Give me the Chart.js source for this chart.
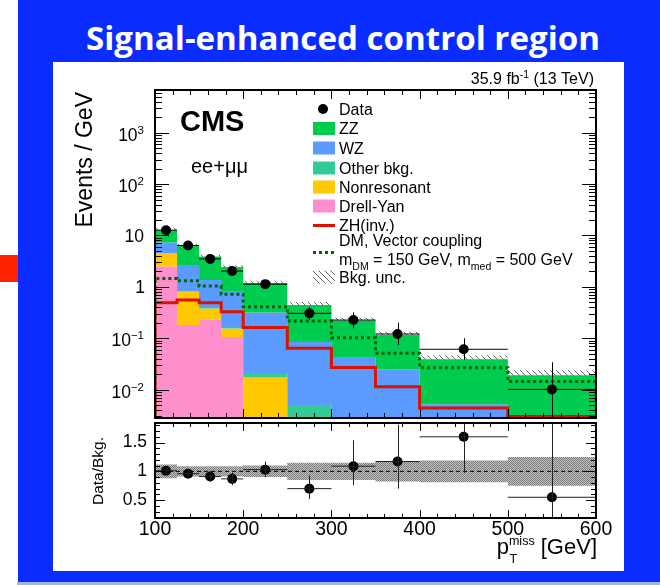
<!DOCTYPE html>
<html>
<head>
<meta charset="utf-8">
<script src="https://cdn.jsdelivr.net/npm/chart.js@4.4.1/dist/chart.umd.min.js"></script>
<style>
  html, body { margin: 0; padding: 0; background: #fff; }
  #page { position: relative; width: 660px; height: 585px; overflow: hidden; background: #fff; }
  #slide { position: absolute; left: 18px; top: 0; width: 642px; height: 582px; background: #0a2cff; }
  #strip { position: absolute; left: 17px; top: 582px; width: 643px; height: 3px; background: #9fbcd6; }
  #marker { position: absolute; left: 0; top: 255px; width: 18px; height: 27px; background: #ff2200; }
  #panel { position: absolute; left: 53px; top: 62px; width: 571px; height: 509px; background: #fff; }
  #title { position: absolute; left: 86px; top: 18px; color: #fff; transform-origin: 0 0;
           font-family: "Open Sans", Lato, sans-serif; font-weight: bold; font-size: 32px; line-height: 40px; white-space: nowrap; }
  canvas { position: absolute; left: 0; top: 0; }
</style>
</head>
<body>
<div id="page">
  <div id="slide"></div>
  <div id="strip"></div>
  <div id="marker"></div>
  <div id="panel"></div>
  <div id="title">Signal-enhanced control region</div>
  <canvas id="main" width="660" height="585"></canvas>
  <canvas id="ratio" width="660" height="585"></canvas>
</div>
<script>
// bins in pTmiss [GeV]
const EDGES = [100, 125, 150, 175, 200, 250, 300, 350, 400, 500, 600];
const CENTERS = [112.5, 137.5, 162.5, 187.5, 225, 275, 325, 375, 450, 550];

// background components, events / GeV (stack order bottom -> top)
const DRELL_YAN   = [2.48, 0.18, 0.231, 0.106, 0, 0, 0, 0, 0, 0];
const NONRESONANT = [2.02, 0.63, 0.147, 0.048, 0.0172, 0, 0, 0, 0, 0];
const OTHER_BKG   = [0.05, 0.02, 0.026, 0.011, 0.0038, 0.005, 0.002, 0.0015, 0.0006, 0.0003];
const WZ          = [2.73, 1.83, 0.956, 0.665, 0.295, 0.079, 0.041, 0.0235, 0.0046, 0.0027];
const ZZ          = [5.42, 3.71, 2.53, 1.60, 0.874, 0.359, 0.178, 0.090, 0.034, 0.016];
const BKG_UNC     = [0.12, 0.09, 0.09, 0.09, 0.10, 0.15, 0.15, 0.175, 0.19, 0.25]; // relative

// signals
const ZH_INV    = [0.49, 0.553, 0.49, 0.328, 0.161, 0.0635, 0.027, 0.0114, 0.0044, 0.003];
const DM_VECTOR = [1.46, 1.31, 1.04, 0.715, 0.41, 0.216, 0.102, 0.051, 0.0267, 0.0143];

// data
const DATA          = [12.7, 6.4, 3.5, 2.03, 1.13, 0.305, 0.226, 0.121, 0.061, 0.0101];
const DATA_ERR_UP   = [0.72, 0.52, 0.39, 0.31, 0.17, 0.10, 0.093, 0.08, 0.039, 0.024];
const DATA_ERR_DOWN = [0.70, 0.50, 0.37, 0.28, 0.15, 0.08, 0.07, 0.047, 0.023, 0.0101];

// data / bkg
const RATIO          = [1.01, 0.96, 0.91, 0.87, 1.03, 0.70, 1.09, 1.17, 1.60, 0.55];
const RATIO_ERR_UP   = [0.06, 0.07, 0.09, 0.11, 0.14, 0.23, 0.45, 0.64, 0.90, 2.40];
const RATIO_ERR_DOWN = [0.06, 0.07, 0.09, 0.11, 0.13, 0.18, 0.33, 0.47, 0.63, 0.55];

const X_TICKS = [100, 200, 300, 400, 500, 600];
const Y_DECADES = [-2, -1, 0, 1, 2, 3];
const RATIO_TICKS = [0.5, 1, 1.5];
const RATIO_REF = 1;

const LEGEND = [
  { kind: 'point', label: 'Data' },
  { kind: 'box', label: 'ZZ', color: '#00cc4f' },
  { kind: 'box', label: 'WZ', color: '#5b9bff' },
  { kind: 'box', label: 'Other bkg.', color: '#33cc99' },
  { kind: 'box', label: 'Nonresonant', color: '#ffc800' },
  { kind: 'box', label: 'Drell-Yan', color: '#ff8fcc' },
  { kind: 'line', label: 'ZH(inv.)', color: '#dd1100' },
  { kind: 'dash', label: 'DM, Vector coupling', color: '#006400' },
  { kind: 'hatch', label: 'Bkg. unc.' }
];

const FONT = '"Liberation Sans", Arial, sans-serif';
const FLOOR = 1e-6;
Chart.defaults.font.family = FONT;
Chart.defaults.color = '#000';

// stretch the slide title to the width it has in the slide
(function () {
  const el = document.getElementById('title');
  const w = el.getBoundingClientRect().width;
  el.style.transform = 'scaleX(' + (514 / w) + ')';
})();

let cumulative = function (layers) {
  const out = [];
  let run = layers[0].map(() => 0);
  layers.forEach(layer => {
    run = run.map((v, i) => v + layer[i]);
    out.push(run.slice());
  });
  return out;
};

// histogram outline: one point per lower edge, last value repeated at the upper edge
let histPoints = function (values, dropIn) {
  const pts = EDGES.map((e, i) => ({ x: e, y: Math.max(values[Math.min(i, values.length - 1)], FLOOR) }));
  if (dropIn) pts.unshift({ x: EDGES[0], y: FLOOR });
  return pts;
};

let makeHatch = function () {
  const c = document.createElement('canvas');
  c.width = 6; c.height = 6;
  const g = c.getContext('2d');
  g.strokeStyle = '#555';
  g.lineWidth = 0.9;
  [-6, 0, 6].forEach(k => { g.beginPath(); g.moveTo(k, 0); g.lineTo(k + 6, 6); g.stroke(); });
  return g.createPattern(c, 'repeat');
};

let makeMesh = function () {
  const c = document.createElement('canvas');
  c.width = 2; c.height = 2;
  const g = c.getContext('2d');
  g.fillStyle = '#c4c4c4'; g.fillRect(0, 0, 2, 2);
  g.fillStyle = '#7a7a7a'; g.fillRect(0, 0, 1, 1); g.fillRect(1, 1, 1, 1);
  return g.createPattern(c, 'repeat');
};

const hatch = makeHatch();
const mesh = makeMesh();

let drawRich = function (ctx, parts, x, y, align) {
  let w = 0;
  parts.forEach(p => {
    ctx.font = (p.bold ? 'bold ' : '') + p.size + 'px ' + FONT;
    p.w = ctx.measureText(p.t).width;
    w += p.w;
  });
  let cx = align === 'right' ? x - w : (align === 'center' ? x - w / 2 : x);
  ctx.textAlign = 'left';
  ctx.textBaseline = 'alphabetic';
  parts.forEach(p => {
    ctx.font = (p.bold ? 'bold ' : '') + p.size + 'px ' + FONT;
    ctx.fillText(p.t, cx, y + (p.dy || 0));
    cx += p.w;
  });
  return w;
};

// ROOT-like frame with inward ticks
let drawFrame = function (chart, cfg) {
  const { ctx, chartArea: a, scales } = chart;
  const xs = scales.x, ys = scales.y;
  ctx.save();
  ctx.strokeStyle = '#000';
  ctx.lineWidth = 1;
  ctx.beginPath();
  const tick = (x1, y1, x2, y2) => { ctx.moveTo(x1, y1); ctx.lineTo(x2, y2); };
  for (let v = X_TICKS[0]; v <= X_TICKS[X_TICKS.length - 1]; v += cfg.xMinor) {
    const px = Math.round(xs.getPixelForValue(v)) + 0.5;
    const len = X_TICKS.includes(v) ? cfg.xMajorLen : cfg.xMinorLen;
    tick(px, a.bottom, px, a.bottom - len);
    tick(px, a.top, px, a.top + len);
  }
  cfg.yTicks.forEach(t => {
    const py = Math.round(ys.getPixelForValue(t.v)) + 0.5;
    if (py < a.top || py > a.bottom) return;
    tick(a.left, py, a.left + t.len, py);
    tick(a.right, py, a.right - t.len, py);
  });
  ctx.stroke();
  ctx.lineWidth = 2;
  ctx.strokeRect(a.left, a.top, a.right - a.left, a.bottom - a.top);
  ctx.restore();
};

let drawErrors = function (chart, values, up, down, color) {
  const { ctx, chartArea: a, scales } = chart;
  ctx.save();
  ctx.beginPath();
  ctx.rect(a.left, a.top, a.right - a.left, a.bottom - a.top);
  ctx.clip();
  ctx.strokeStyle = color;
  ctx.lineWidth = 1;
  values.forEach((v, i) => {
    const py = scales.y.getPixelForValue(v);
    const px = Math.round(scales.x.getPixelForValue(CENTERS[i])) + 0.5;
    const lo = v - down[i] > 0 ? scales.y.getPixelForValue(v - down[i]) : a.bottom + 5;
    const hi = scales.y.getPixelForValue(v + up[i]);
    ctx.beginPath();
    ctx.moveTo(scales.x.getPixelForValue(EDGES[i]), py);
    ctx.lineTo(scales.x.getPixelForValue(EDGES[i + 1]), py);
    ctx.moveTo(px, hi);
    ctx.lineTo(px, lo);
    ctx.stroke();
  });
  ctx.restore();
};

// ---------- main panel ----------
const stacks = cumulative([DRELL_YAN, NONRESONANT, OTHER_BKG, WZ, ZZ]);
const total = stacks[stacks.length - 1];
const uncUp = total.map((t, i) => t * (1 + BKG_UNC[i]));
const uncDown = total.map((t, i) => t * (1 - BKG_UNC[i]));

const logTicks = [];
for (let d = Y_DECADES[0] - 1; d <= Y_DECADES[Y_DECADES.length - 1]; d++) {
  for (let m = 1; m <= 9; m++) logTicks.push({ v: m * Math.pow(10, d), len: m === 1 ? 14 : 7 });
}

const stackDs = (values, color, fill) => ({
  data: histPoints(values, false), stepped: 'before', borderWidth: 0, borderColor: 'rgba(0,0,0,0)',
  backgroundColor: color, fill: fill, pointRadius: 0, clip: 0
});

const mainDecor = {
  id: 'mainDecor',
  afterDatasetsDraw(chart) {
    drawErrors(chart, DATA, DATA_ERR_UP, DATA_ERR_DOWN, '#000');
  },
  afterDraw(chart) {
    const { ctx, scales } = chart;
    drawFrame(chart, { xMinor: 20, xMajorLen: 9, xMinorLen: 5, yTicks: logTicks });
    ctx.save();
    ctx.fillStyle = '#000';
    // y tick labels 10^n
    Y_DECADES.forEach(n => {
      const py = scales.y.getPixelForValue(Math.pow(10, n));
      if (n === 0) drawRich(ctx, [{ t: '1', size: 17.5 }], 145, py + 6.5, 'right');
      else if (n === 1) drawRich(ctx, [{ t: '10', size: 17.5 }], 144, py + 6.5, 'right');
      else drawRich(ctx, [{ t: '10', size: 17.5 }, { t: String(n).replace('-', '\u2212'), size: 11.5, dy: -7 }], 144, py + 8, 'right');
    });
    // axis title
    ctx.save();
    ctx.translate(86, 92);
    ctx.rotate(-Math.PI / 2);
    ctx.font = '23px ' + FONT;
    ctx.textAlign = 'right';
    ctx.textBaseline = 'middle';
    ctx.fillText('Events / GeV', 0, 0);
    ctx.restore();
    drawRich(ctx, [{ t: 'CMS', size: 29, bold: true }], 180, 130.5, 'left');
    drawRich(ctx, [{ t: 'ee+\u03bc\u03bc', size: 20 }], 191, 173, 'left');
    drawRich(ctx, [{ t: '35.9 fb', size: 16 }, { t: '-1', size: 10.5, dy: -6.5 }, { t: ' (13 TeV)', size: 16 }], 594, 84, 'right');
    // legend
    const rows = [109, 128.5, 148, 168, 187, 206, 225.5, 240, 277];
    LEGEND.forEach((e, i) => {
      const cy = rows[i];
      if (e.kind === 'point') {
        ctx.beginPath(); ctx.arc(323, cy, 5, 0, Math.PI * 2); ctx.fill();
      } else if (e.kind === 'box') {
        ctx.fillStyle = e.color; ctx.fillRect(313, cy - 6.5, 22, 13); ctx.fillStyle = '#000';
      } else if (e.kind === 'line') {
        ctx.fillStyle = e.color; ctx.fillRect(313, cy - 1.5, 22, 3); ctx.fillStyle = '#000';
      } else if (e.kind === 'dash') {
        ctx.save(); ctx.strokeStyle = e.color; ctx.lineWidth = 3; ctx.setLineDash([3, 3]);
        ctx.beginPath(); ctx.moveTo(313, 252.5); ctx.lineTo(336, 252.5); ctx.stroke(); ctx.restore();
      } else if (e.kind === 'hatch') {
        ctx.fillStyle = hatch; ctx.fillRect(313, cy - 6.5, 22, 13); ctx.fillStyle = '#000';
      }
      drawRich(ctx, [{ t: e.label, size: 16 }], 339, cy + 5.7, 'left');
    });
    drawRich(ctx, [
      { t: 'm', size: 16 }, { t: 'DM', size: 10.5, dy: 5 }, { t: ' = 150 GeV, m', size: 16 },
      { t: 'med', size: 10.5, dy: 5 }, { t: ' = 500 GeV', size: 16 }
    ], 339, 264.5, 'left');
    ctx.restore();
  }
};

new Chart(document.getElementById('main'), {
  type: 'line',
  data: {
    datasets: [
      { data: CENTERS.map((x, i) => ({ x: x, y: DATA[i] })), showLine: false, pointRadius: 5,
        pointBackgroundColor: '#000', pointBorderWidth: 0, clip: 0 },
      { data: histPoints(ZH_INV, true), stepped: 'before', borderColor: '#dd1100', borderWidth: 3,
        pointRadius: 0, fill: false, clip: 0 },
      { data: histPoints(DM_VECTOR, true), stepped: 'before', borderColor: '#006400', borderWidth: 3,
        borderDash: [3, 3], pointRadius: 0, fill: false, clip: 0 },
      stackDs(stacks[4], '#00cc4f', '+1'),
      stackDs(stacks[3], '#5b9bff', '+1'),
      stackDs(stacks[2], '#33cc99', '+1'),
      stackDs(stacks[1], '#ffc800', '+1'),
      stackDs(stacks[0], '#ff8fcc', 'start'),
      stackDs(uncUp, hatch, '+1'),
      stackDs(uncDown, 'rgba(0,0,0,0)', false)
    ]
  },
  options: {
    responsive: false, animation: false, devicePixelRatio: 1, events: [],
    layout: { padding: { left: 155, top: 90, right: 64, bottom: 167 } },
    plugins: { legend: { display: false }, tooltip: { enabled: false } },
    scales: {
      x: { type: 'linear', min: 100, max: 600, display: false },
      y: { type: 'logarithmic', min: 0.0028, max: 6800, display: false }
    }
  },
  plugins: [mainDecor]
});

// ---------- ratio panel ----------
const ratioTicks = [];
for (let v = 0.2; v <= 1.85; v += 0.1) {
  const r = Math.round(v * 10) / 10;
  ratioTicks.push({ v: r, len: RATIO_TICKS.includes(r) ? 10 : 5 });
}

const ratioDecor = {
  id: 'ratioDecor',
  afterDatasetsDraw(chart) {
    drawErrors(chart, RATIO, RATIO_ERR_UP, RATIO_ERR_DOWN, '#222');
  },
  afterDraw(chart) {
    const { ctx } = chart;
    drawFrame(chart, { xMinor: 20, xMajorLen: 8, xMinorLen: 4, yTicks: ratioTicks });
    ctx.save();
    ctx.fillStyle = '#000';
    ctx.translate(99, 471);
    ctx.rotate(-Math.PI / 2);
    ctx.font = '15.5px ' + FONT;
    ctx.textAlign = 'center';
    ctx.textBaseline = 'middle';
    ctx.fillText('Data/Bkg.', 0, 0);
    ctx.restore();
    // p_T^miss [GeV]
    ctx.save();
    ctx.fillStyle = '#000';
    const gw = drawRich(ctx, [{ t: ' [GeV]', size: 22 }], 597, 554, 'right');
    const mw = drawRich(ctx, [{ t: 'miss', size: 12.5 }], 597 - gw, 545, 'right');
    drawRich(ctx, [{ t: 'T', size: 12.5 }], 597 - gw - mw + 0.5, 563, 'left');
    drawRich(ctx, [{ t: 'p', size: 22 }], 597 - gw - mw, 554, 'right');
    ctx.restore();
  }
};

new Chart(document.getElementById('ratio'), {
  type: 'line',
  data: {
    datasets: [
      { data: CENTERS.map((x, i) => ({ x: x, y: RATIO[i] })), showLine: false, pointRadius: 5,
        pointBackgroundColor: '#000', pointBorderWidth: 0, clip: 0 },
      { data: [{ x: EDGES[0], y: RATIO_REF }, { x: EDGES[EDGES.length - 1], y: RATIO_REF }],
        borderColor: '#000', borderWidth: 1, borderDash: [4, 3], pointRadius: 0, fill: false },
      stackDs(BKG_UNC.map(u => RATIO_REF + u), mesh, '+1'),
      stackDs(BKG_UNC.map(u => RATIO_REF - u), 'rgba(0,0,0,0)', false)
    ]
  },
  options: {
    responsive: false, animation: false, devicePixelRatio: 1, events: [],
    layout: { padding: { left: 95, top: 423, right: 64, bottom: 27 } },
    plugins: { legend: { display: false }, tooltip: { enabled: false } },
    scales: {
      x: {
        type: 'linear', min: 100, max: 600,
        grid: { display: false, drawTicks: false }, border: { display: false },
        afterFit: s => { s.height = 40; },
        afterBuildTicks: s => { s.ticks = X_TICKS.map(v => ({ value: v })); },
        ticks: { autoSkip: false, maxRotation: 0, padding: 2, color: '#000',
                 font: { size: 19.5, lineHeight: 1 } }
      },
      y: {
        type: 'linear', min: 0.19, max: 1.84,
        grid: { display: false, drawTicks: false }, border: { display: false },
        afterFit: s => { s.width = 60; },
        afterBuildTicks: s => { s.ticks = RATIO_TICKS.map(v => ({ value: v })); },
        ticks: { padding: 8, color: '#000', font: { size: 17.5 },
                 callback: v => String(v) }
      }
    }
  },
  plugins: [ratioDecor]
});
</script>
</body>
</html>
